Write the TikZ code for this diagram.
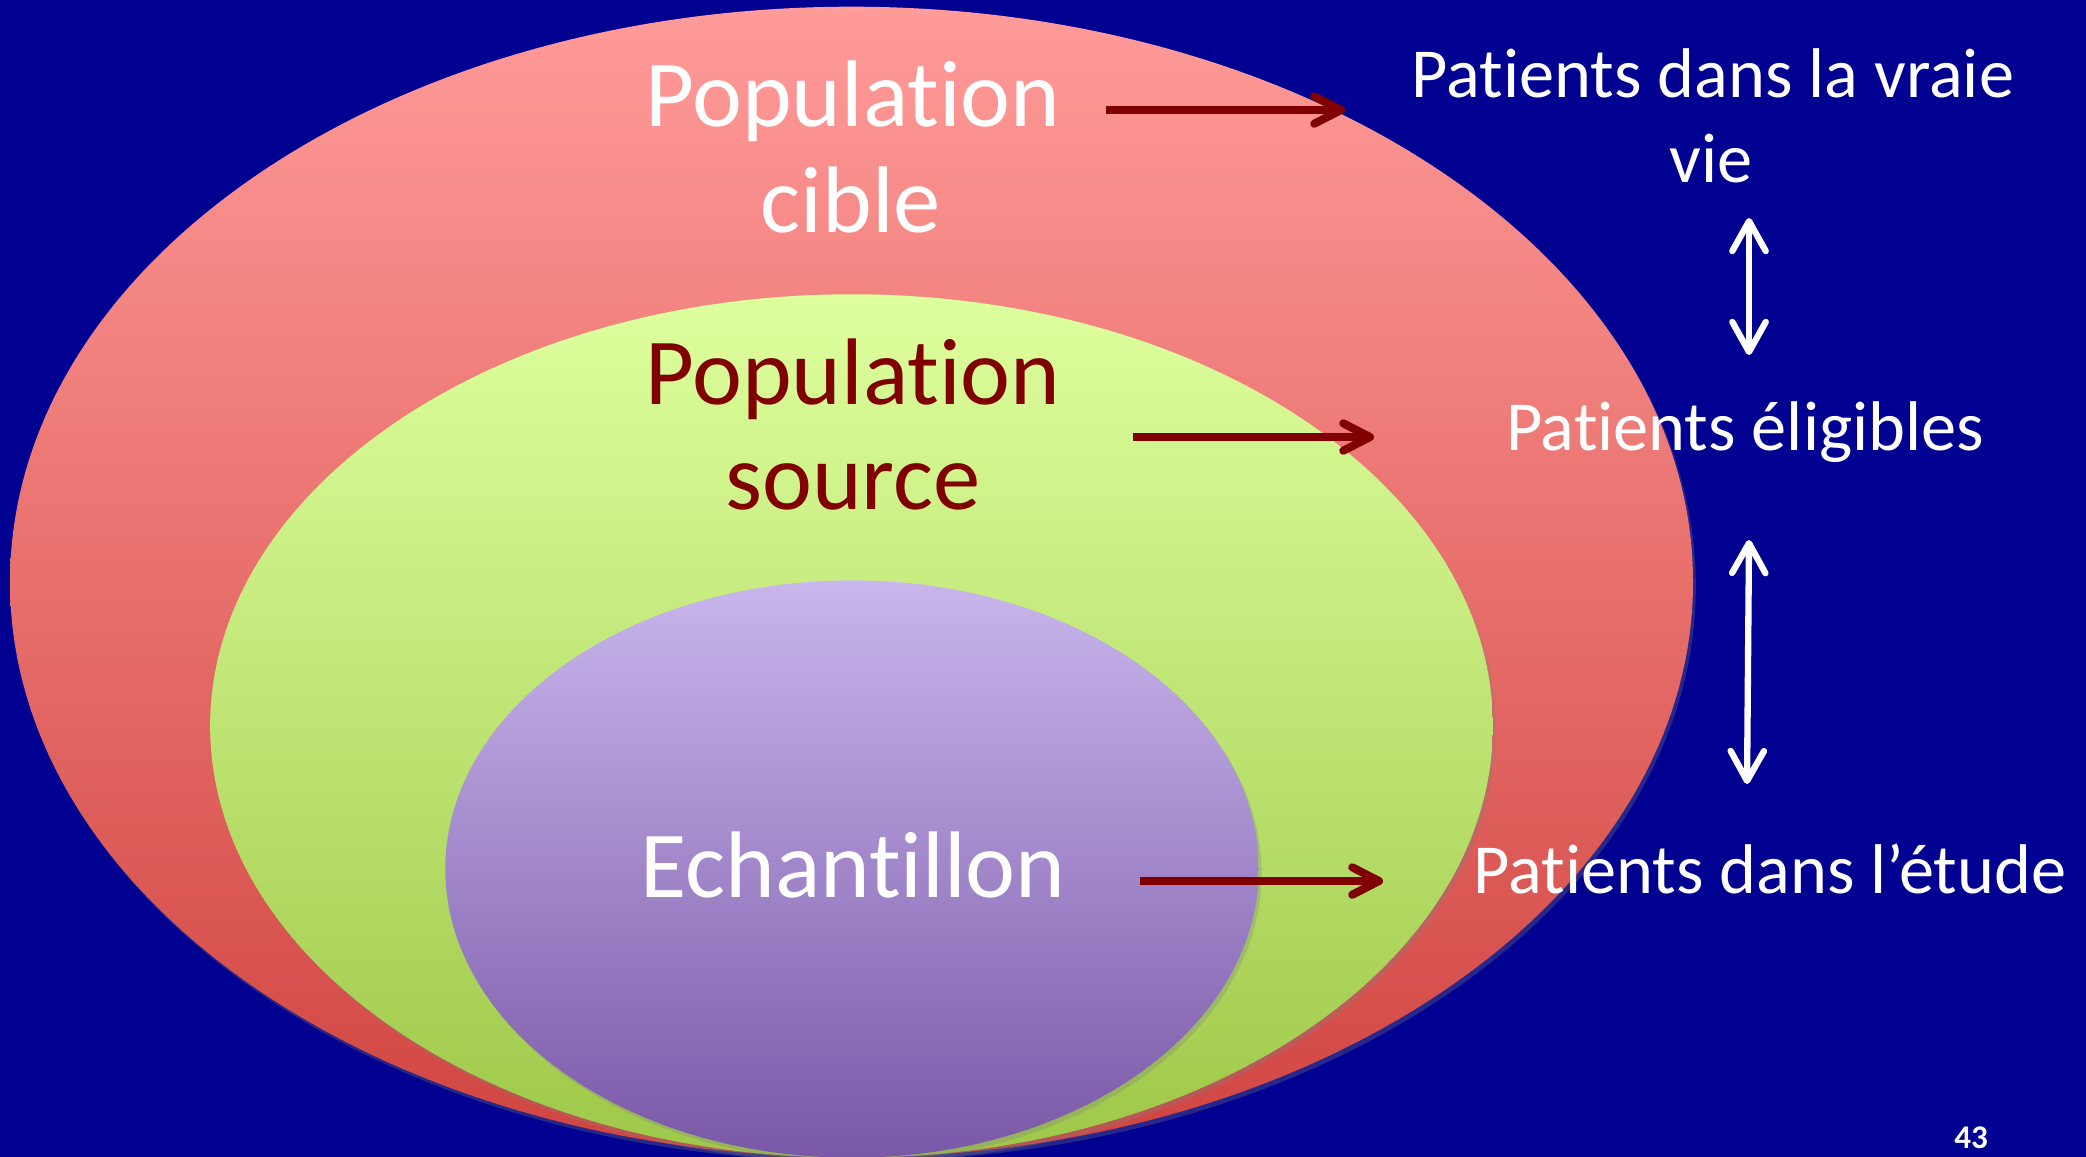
\documentclass[tikz,border=0pt]{standalone}
\usepackage{fontspec}
\setmainfont{Carlito}[Ligatures={NoCommon,NoRequired,NoContextual}]
\usetikzlibrary{shapes.geometric,arrows.meta,shadows}
\definecolor{bg}{RGB}{0,0,145}
\definecolor{darkred}{RGB}{128,0,0}
\definecolor{pinktop}{RGB}{255,155,153}
\definecolor{pinkbot}{RGB}{208,68,64}
\definecolor{greentop}{RGB}{222,255,158}
\definecolor{greenbot}{RGB}{158,200,72}
\definecolor{purptop}{RGB}{200,182,236}
\definecolor{purpbot}{RGB}{122,88,168}
\begin{document}
\begin{tikzpicture}[x=0.01cm,y=-0.01cm,
  zone/.style={ellipse, inner sep=0pt, draw=none,
    drop shadow={shadow xshift=0.8pt, shadow yshift=-1.2pt, opacity=0.3}},
  bigtxt/.style={font=\fontsize{26.9}{30}\selectfont, inner sep=0pt, anchor=base},
  sidetxt/.style={font=\fontsize{20.0}{24}\selectfont, text=white, inner sep=0pt, anchor=base},
  redarrow/.style={draw=darkred, line width=2.3pt,
    -{Straight Barb[length=7.6pt,width=7.8pt,round]}},
  whitearrow/.style={draw=white, line width=1.8pt,
    {Straight Barb[length=8.5pt,width=9.5pt,round]}-{Straight Barb[length=8.5pt,width=9.5pt,round]}}
]
\useasboundingbox (0,0) rectangle (2086,1156);
\fill[bg] (-20,-20) rectangle (2106,1176);

% nested populations
\node[zone, minimum width=16.82cm, minimum height=11.50cm,
      top color=pinktop, bottom color=pinkbot] (cible) at (851.5,582) {};
\node[zone, minimum width=12.82cm, minimum height=8.63cm,
      top color=greentop, bottom color=greenbot] (source) at (851.5,726) {};
\node[zone, minimum width=8.13cm, minimum height=5.77cm,
      top color=purptop, bottom color=purpbot] (echant) at (852,869) {};

% labels inside
\node[bigtxt, text=white] (pcA) at (853,126) {Population};
\node[bigtxt, text=white] (pcB) at (851,232) {cible};
\node[bigtxt, text=darkred] (psA) at (853,404) {Population};
\node[bigtxt, text=darkred] (psB) at (853,509) {source};
\node[bigtxt, text=white] (ech) at (853,897) {Echantillon};

% labels on the right
\node[sidetxt] (vraieA) at (1713,97) {Patients dans la vraie};
\node[sidetxt] (vraieB) at (1711,182) {vie};
\node[sidetxt] (elig) at (1745,450) {Patients éligibles};
\node[sidetxt] (etude) at (1770,893) {Patients dans l’étude};

\node[font=\fontsize{9.4}{11}\selectfont\bfseries, text=white, inner sep=0pt, anchor=base] (pagenum) at (1971,1148) {43};

% arrow ends
\coordinate (r1s) at (1106,110);
\coordinate (r1e) at (1345,110);
\coordinate (r2s) at (1133,437);
\coordinate (r2e) at (1374,437);
\coordinate (r3s) at (1140,881);
\coordinate (r3e) at (1383,881);
\coordinate (w1s) at (1749,218);
\coordinate (w1e) at (1749,355);
\coordinate (w2s) at (1749,540);
\coordinate (w2e) at (1747,784);

\draw[redarrow] (r1s) -- (r1e);
\draw[redarrow] (r2s) -- (r2e);
\draw[redarrow] (r3s) -- (r3e);
\draw[whitearrow] (w1s) -- (w1e);
\draw[whitearrow] (w2s) -- (w2e);
\end{tikzpicture}
\end{document}
